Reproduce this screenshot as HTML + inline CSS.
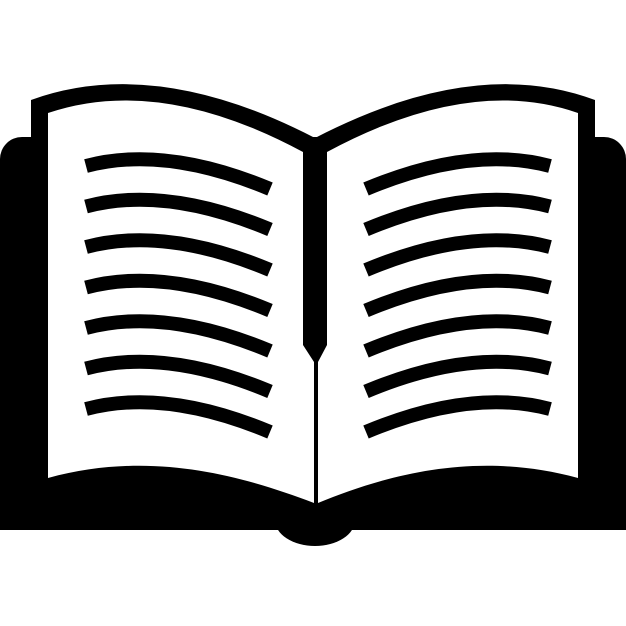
<!DOCTYPE html>
<html><head><style>html,body{margin:0;padding:0;background:#fff}svg{display:block}</style></head>
<body>
<svg width="626" height="626" viewBox="0 0 626 626" xmlns="http://www.w3.org/2000/svg">
<rect x="0" y="137" width="626" height="393" rx="22" fill="#000"/>
<rect x="0" y="300" width="626" height="230" fill="#000"/>
<ellipse cx="315" cy="520" rx="40" ry="26" fill="#000"/>
<path d="M31,100 Q155,55 315,138 Q475,55 595,100 L595,480 L31,480 Z" fill="#000"/>
<path d="M48,113 Q160,75 303,152 L303,345 L314,362 L314,503 C240,475 150,450 48,478 Z" fill="#fff"/>
<path d="M327,152 Q470,75 578,113 L578,478 C476,450 386,475 318,503 L318,362 L327,345 Z" fill="#fff"/>
<g fill="none" stroke="#000" stroke-width="14">
<path id="l" d="M86,166 Q165,145 270,189"/>
<use href="#l" y="40.5"/><use href="#l" y="81"/><use href="#l" y="121.5"/><use href="#l" y="162"/><use href="#l" y="202.5"/><use href="#l" y="243"/>
<g transform="translate(636,0) scale(-1,1)">
<use href="#l"/><use href="#l" y="40.5"/><use href="#l" y="81"/><use href="#l" y="121.5"/><use href="#l" y="162"/><use href="#l" y="202.5"/><use href="#l" y="243"/>
</g>
</g>
</svg>
</body></html>
